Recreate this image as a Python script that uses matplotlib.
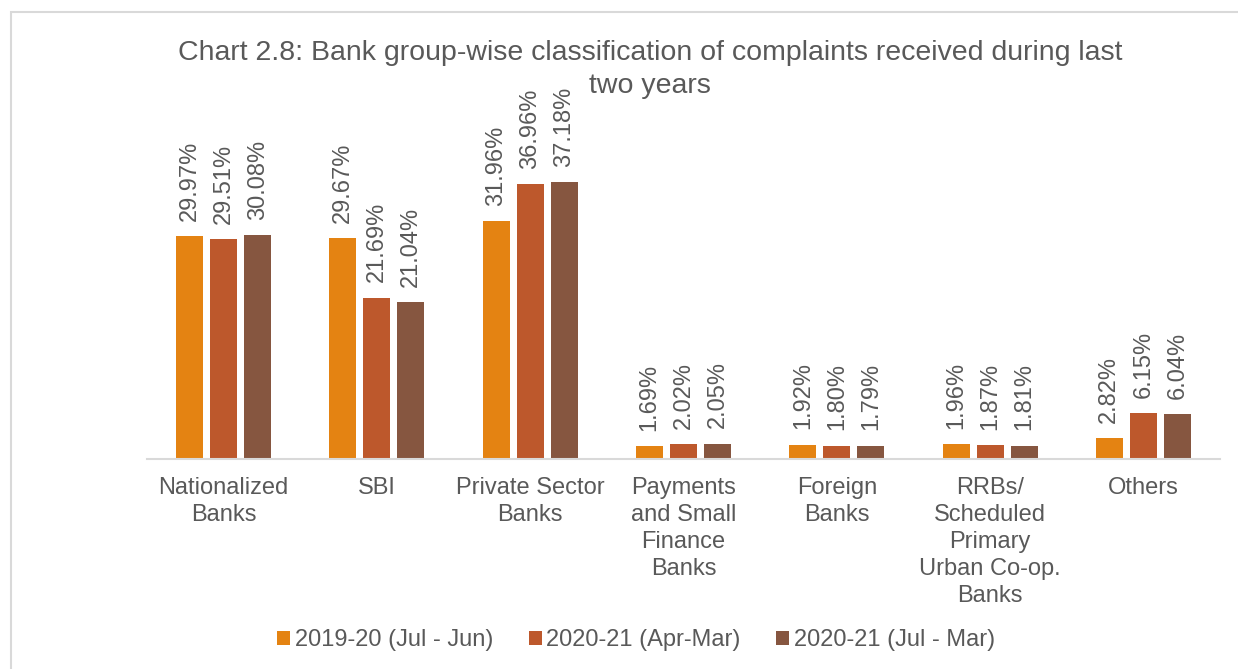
import matplotlib.pyplot as plt
from matplotlib.patches import Rectangle
import numpy as np

plt.rcParams['font.family'] = ['Liberation Sans', 'DejaVu Sans']

# Data
categories = ['Nationalized\nBanks', 'SBI', 'Private Sector\nBanks', 'Payments\nand Small\nFinance\nBanks',
              'Foreign\nBanks', 'RRBs/\nScheduled\nPrimary\nUrban Co-op.\nBanks', 'Others']
series_names = ['2019-20 (Jul - Jun)', '2020-21 (Apr-Mar)', '2020-21 (Jul - Mar)']
y2019_20 = [29.97, 29.67, 31.96, 1.69, 1.92, 1.96, 2.82]
y2020_21_apr = [29.51, 21.69, 36.96, 2.02, 1.80, 1.87, 6.15]
y2020_21_jul = [30.08, 21.04, 37.18, 2.05, 1.79, 1.81, 6.04]

colors = ['#E48312', '#BD582C', '#865640']
text_color = '#595959'
grid_color = '#D9D9D9'

W, H = 1238, 669
fig = plt.figure(figsize=(W / 100, H / 100), dpi=100)

# outer chart frame (runs off the right and bottom edges)
fig.patches.append(Rectangle((11 / W, -0.2), 1.2, 1 - 12 / H + 0.2, transform=fig.transFigure,
                             fill=False, edgecolor=grid_color, linewidth=1.5))

ax = fig.add_axes([147 / W, (H - 459) / H, (1220 - 147) / W, 40 * 7.44 / H])

x = np.arange(len(categories))
width = 0.176
offsets = [-0.222, 0, 0.222]
for vals, off, col, name in zip([y2019_20, y2020_21_apr, y2020_21_jul], offsets, colors, series_names):
    bars = ax.bar(x + off, vals, width, color=col, label=name, zorder=2)
    for b, v in zip(bars, vals):
        ax.annotate(f'{v:.2f}%', (b.get_x() + b.get_width() / 2, v), xytext=(0, 11),
                    textcoords='offset points', rotation=90, ha='center', va='bottom',
                    fontsize=17, color=text_color)

ax.set_xlim(-0.5, len(categories) - 0.5)
ax.set_ylim(0, 40)
ax.set_yticks([])
for s in ['top', 'left', 'right']:
    ax.spines[s].set_visible(False)
ax.spines['bottom'].set_color(grid_color)
ax.spines['bottom'].set_linewidth(1.5)
ax.set_xticks(x)
ax.set_xticklabels(categories, fontsize=17, color=text_color, linespacing=1.3)
ax.tick_params(axis='x', length=0, pad=13)

# title, two lines drawn separately
fig.text(650 / W, 1 - 53 / H, 'Chart 2.8: Bank group-wise classification of complaints received during last',
         ha='center', va='center', fontsize=20.5, color=text_color)
fig.text(650 / W, 1 - 86 / H, 'two years', ha='center', va='center', fontsize=20.5, color=text_color)

leg = fig.legend(loc='center', bbox_to_anchor=(636 / W, 1 - 640 / H), ncol=3, frameon=False,
                 fontsize=17, handlelength=0.55, handleheight=0.55, handletextpad=0.2,
                 columnspacing=1.5, labelcolor=text_color)

fig.savefig('out.png', dpi=100)
